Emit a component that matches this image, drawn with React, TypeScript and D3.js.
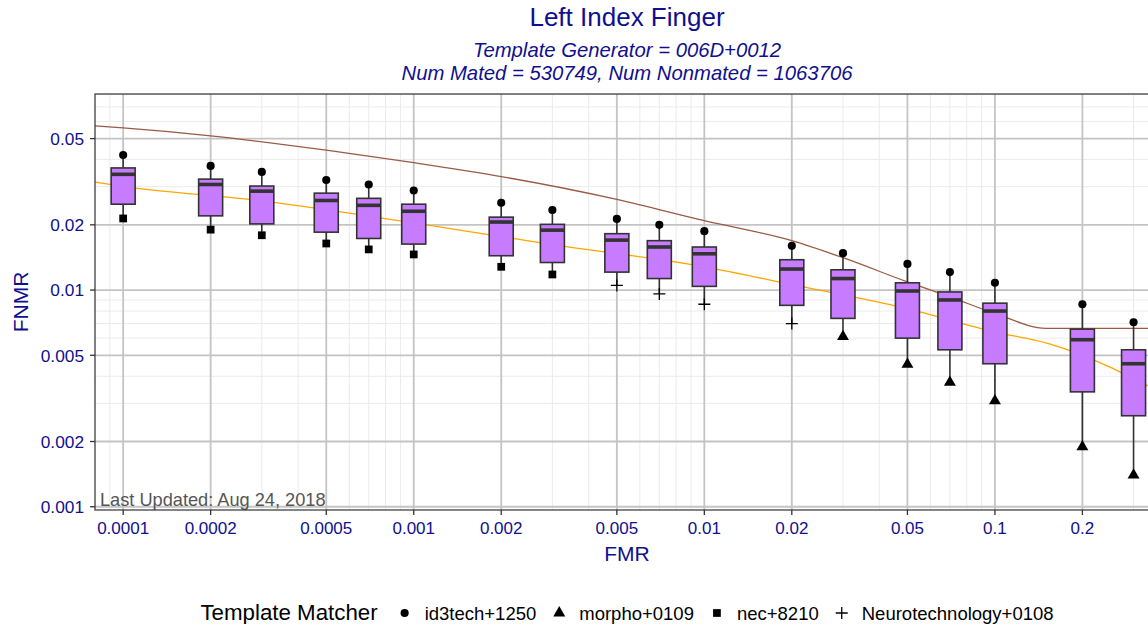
import * as d3 from 'd3';
import React, { useRef, useEffect } from 'react';

// FMR thresholds where the boxes sit
const fmr = [0.0001, 0.0002, 0.0003, 0.0005, 0.0007, 0.001, 0.002, 0.003, 0.005, 0.007, 0.01, 0.02, 0.03, 0.05, 0.07, 0.1, 0.2, 0.3];
// FNMR over all matchers at each FMR
const fnmrMax = [0.0420, 0.0374, 0.0351, 0.0322, 0.0307, 0.0288, 0.0253, 0.0234, 0.0213, 0.0200, 0.0187, 0.0160, 0.0148, 0.0132, 0.0121, 0.0108, 0.0086, 0.0071];
const fnmrQ3 = [0.0366, 0.0325, 0.0302, 0.0280, 0.0265, 0.0249, 0.0217, 0.0201, 0.0182, 0.0169, 0.0158, 0.0138, 0.0124, 0.0108, 0.0098, 0.0087, 0.0066, 0.0053];
const fnmrMedian = [0.0342, 0.0307, 0.0286, 0.0259, 0.0246, 0.0231, 0.0206, 0.0189, 0.0170, 0.0158, 0.0147, 0.0125, 0.0113, 0.0099, 0.0090, 0.0080, 0.0059, 0.00457];
const fnmrQ1 = [0.0249, 0.0220, 0.0202, 0.0185, 0.0173, 0.0163, 0.0144, 0.0134, 0.0121, 0.0113, 0.0104, 0.0085, 0.0074, 0.0060, 0.0053, 0.00457, 0.00339, 0.00263];
const fnmrMin = [0.0214, 0.0190, 0.0179, 0.0164, 0.0154, 0.0146, 0.0128, 0.0118, 0.0105, 0.0096, 0.0086, 0.0070, 0.0061, 0.00454, 0.00375, 0.00308, 0.00189, 0.0014];
const maxMatcher = fmr.map(() => 'id3tech+1250');
const minMatcher = [
  'nec+8210', 'nec+8210', 'nec+8210', 'nec+8210', 'nec+8210', 'nec+8210', 'nec+8210', 'nec+8210',
  'Neurotechnology+0108', 'Neurotechnology+0108', 'Neurotechnology+0108', 'Neurotechnology+0108',
  'morpho+0109', 'morpho+0109', 'morpho+0109', 'morpho+0109', 'morpho+0109', 'morpho+0109',
];

// reference curves
const brownFMR = [0.00008, 0.0001, 0.0002, 0.0005, 0.001, 0.002, 0.005, 0.01, 0.02, 0.03, 0.05, 0.07, 0.1, 0.15, 0.4];
const brownFNMR = [0.0572, 0.0560, 0.0515, 0.0442, 0.0387, 0.0334, 0.0262, 0.0209, 0.0169, 0.0141, 0.0109, 0.0093, 0.0078, 0.00666, 0.00666];
const orangeFMR = [0.00008, 0.0001, 0.0003, 0.001, 0.003, 0.01, 0.02, 0.05, 0.1, 0.15, 0.2, 0.25, 0.3, 0.37];
const orangeFNMR = [0.0315, 0.0301, 0.0258, 0.0204, 0.0162, 0.0128, 0.0106, 0.0082, 0.0064, 0.0057, 0.0050, 0.0044, 0.0039, 0.0034];

const xTicks = [0.0001, 0.0002, 0.0005, 0.001, 0.002, 0.005, 0.01, 0.02, 0.05, 0.1, 0.2];
const xTickLabels = ['0.0001', '0.0002', '0.0005', '0.001', '0.002', '0.005', '0.01', '0.02', '0.05', '0.1', '0.2'];
const yTicks = [0.001, 0.002, 0.005, 0.01, 0.02, 0.05];
const yTickLabels = ['0.001', '0.002', '0.005', '0.01', '0.02', '0.05'];

const matchers = ['id3tech+1250', 'morpho+0109', 'nec+8210', 'Neurotechnology+0108'];

const FONT = '"Liberation Sans", Arial, Helvetica, sans-serif';
const BLUE = '#0f0f8f';

function App() {
  const ref = useRef<SVGSVGElement>(null);

  useEffect(() => {
    draw();
  }, []);

  const draw = () => {
    const width = 1148, height = 624;
    const svg = d3.select(ref.current).attr('width', width).attr('height', height);
    svg.selectAll('*').remove();

    const left = 95, right = 1159, top = 94, bottom = 510;

    const x = d3.scaleLog().domain([0.00008, 0.367]).range([left, right]);
    const y = d3.scaleLog().domain([0.000966, 0.0803]).range([bottom, top]);

    svg.append('rect').attr('width', width).attr('height', height).attr('fill', '#fff');

    svg.append('defs').append('clipPath').attr('id', 'panel')
      .append('rect').attr('x', left).attr('y', top).attr('width', right - left).attr('height', bottom - top);

    const panel = svg.append('g').attr('clip-path', 'url(#panel)');

    // minor grid: every 1..9 x 10^k that is not a major break
    const majorX = xTicks.concat([0.5]);
    const minor = (lo: number, hi: number, majors: number[]) => {
      const out: number[] = [];
      for (let e = -6; e <= 0; e++) {
        for (let m = 1; m <= 9; m++) {
          const v = +(m * Math.pow(10, e)).toPrecision(3);
          if (v >= lo && v <= hi && !majors.some((t) => Math.abs(t - v) / v < 1e-6)) out.push(v);
        }
      }
      return out;
    };

    panel.selectAll('.xminor').data(minor(0.00008, 0.367, majorX)).enter().append('line')
      .attr('x1', (d) => x(d)).attr('x2', (d) => x(d)).attr('y1', top).attr('y2', bottom)
      .attr('stroke', '#ebebeb').attr('stroke-width', 1);
    panel.selectAll('.yminor').data(minor(0.000966, 0.0803, yTicks)).enter().append('line')
      .attr('y1', (d) => y(d)).attr('y2', (d) => y(d)).attr('x1', left).attr('x2', right)
      .attr('stroke', '#ebebeb').attr('stroke-width', 1);
    panel.selectAll('.xmajor').data(xTicks).enter().append('line')
      .attr('x1', (d) => x(d)).attr('x2', (d) => x(d)).attr('y1', top).attr('y2', bottom)
      .attr('stroke', '#c4c4c4').attr('stroke-width', 1.8);
    panel.selectAll('.ymajor').data(yTicks).enter().append('line')
      .attr('y1', (d) => y(d)).attr('y2', (d) => y(d)).attr('x1', left).attr('x2', right)
      .attr('stroke', '#c4c4c4').attr('stroke-width', 1.8);

    // reference lines (under the boxes)
    const line = d3.line<[number, number]>()
      .x((d) => x(d[0])).y((d) => y(d[1])).curve(d3.curveMonotoneX);
    panel.append('path').datum(brownFMR.map((f, i) => [f, brownFNMR[i]] as [number, number]))
      .attr('d', line).attr('fill', 'none').attr('stroke', '#9a5a45').attr('stroke-width', 1.3);
    panel.append('path').datum(orangeFMR.map((f, i) => [f, orangeFNMR[i]] as [number, number]))
      .attr('d', line).attr('fill', 'none').attr('stroke', '#ffa500').attr('stroke-width', 1.3);

    const bw = 12;
    const boxes = panel.selectAll('.box').data(fmr.map((f, i) => i)).enter().append('g');
    boxes.append('line')
      .attr('x1', (i) => x(fmr[i])).attr('x2', (i) => x(fmr[i]))
      .attr('y1', (i) => y(fnmrMax[i])).attr('y2', (i) => y(fnmrQ3[i]))
      .attr('stroke', '#333').attr('stroke-width', 1.6);
    boxes.append('line')
      .attr('x1', (i) => x(fmr[i])).attr('x2', (i) => x(fmr[i]))
      .attr('y1', (i) => y(fnmrQ1[i])).attr('y2', (i) => y(fnmrMin[i]))
      .attr('stroke', '#333').attr('stroke-width', 1.6);
    boxes.append('rect')
      .attr('x', (i) => x(fmr[i]) - bw).attr('width', bw * 2)
      .attr('y', (i) => y(fnmrQ3[i])).attr('height', (i) => y(fnmrQ1[i]) - y(fnmrQ3[i]))
      .attr('fill', '#C77CFF').attr('stroke', '#333').attr('stroke-width', 1.6);
    boxes.append('line')
      .attr('x1', (i) => x(fmr[i]) - bw).attr('x2', (i) => x(fmr[i]) + bw)
      .attr('y1', (i) => y(fnmrMedian[i])).attr('y2', (i) => y(fnmrMedian[i]))
      .attr('stroke', '#333').attr('stroke-width', 3.6);

    const shape = (m: string) => {
      if (m === 'id3tech+1250') return d3.symbol().type(d3.symbolCircle).size(52)();
      if (m === 'morpho+0109') return d3.symbol().type(d3.symbolTriangle).size(62)();
      if (m === 'nec+8210') return d3.symbol().type(d3.symbolSquare).size(60)();
      return 'M-6,0H6M0,-6V6';
    };
    const drawMark = (g: any, m: string) => {
      const plus = m === 'Neurotechnology+0108';
      g.append('path').attr('d', shape(m))
        .attr('fill', plus ? 'none' : '#000')
        .attr('stroke', plus ? '#000' : 'none')
        .attr('stroke-width', 1.3);
    };

    fmr.forEach((f, i) => {
      drawMark(panel.append('g').attr('transform', `translate(${x(f)},${y(fnmrMax[i])})`), maxMatcher[i]);
      drawMark(panel.append('g').attr('transform', `translate(${x(f)},${y(fnmrMin[i])})`), minMatcher[i]);
    });

    panel.append('text').attr('x', left + 5).attr('y', bottom - 4)
      .attr('font-family', FONT).attr('font-size', 18.2).attr('fill', '#555')
      .text('Last Updated: Aug 24, 2018');

    // panel border
    svg.append('rect').attr('x', left).attr('y', top).attr('width', right - left).attr('height', bottom - top)
      .attr('fill', 'none').attr('stroke', '#333').attr('stroke-width', 1.2);

    // axes
    svg.selectAll('.xt').data(xTicks).enter().append('line')
      .attr('x1', (d) => x(d)).attr('x2', (d) => x(d)).attr('y1', bottom).attr('y2', bottom + 5)
      .attr('stroke', '#333').attr('stroke-width', 1.3);
    svg.selectAll('.xl').data(xTicks).enter().append('text')
      .attr('x', (d) => x(d)).attr('y', bottom + 24).attr('text-anchor', 'middle')
      .attr('font-family', FONT).attr('font-size', 17).attr('fill', BLUE)
      .text((d, i) => xTickLabels[i]);
    svg.selectAll('.yt').data(yTicks).enter().append('line')
      .attr('x1', left - 5).attr('x2', left).attr('y1', (d) => y(d)).attr('y2', (d) => y(d))
      .attr('stroke', '#333').attr('stroke-width', 1.3);
    svg.selectAll('.yl').data(yTicks).enter().append('text')
      .attr('x', left - 11).attr('y', (d) => y(d)).attr('dy', '0.36em').attr('text-anchor', 'end')
      .attr('font-family', FONT).attr('font-size', 17.3).attr('fill', BLUE)
      .text((d, i) => yTickLabels[i]);

    const cx = (left + right) / 2;
    svg.append('text').attr('x', cx).attr('y', 561).attr('text-anchor', 'middle')
      .attr('font-family', FONT).attr('font-size', 21).attr('fill', BLUE).text('FMR');
    svg.append('text').attr('transform', `translate(28,${(top + bottom) / 2}) rotate(-90)`)
      .attr('text-anchor', 'middle')
      .attr('font-family', FONT).attr('font-size', 21).attr('fill', BLUE).text('FNMR');

    // titles
    svg.append('text').attr('x', cx).attr('y', 26).attr('text-anchor', 'middle')
      .attr('font-family', FONT).attr('font-size', 26).attr('fill', BLUE).text('Left Index Finger');
    svg.append('text').attr('x', cx).attr('y', 57).attr('text-anchor', 'middle')
      .attr('font-family', FONT).attr('font-size', 20.3).attr('font-style', 'italic').attr('fill', BLUE)
      .text('Template Generator = 006D+0012');
    svg.append('text').attr('x', cx).attr('y', 80).attr('text-anchor', 'middle')
      .attr('font-family', FONT).attr('font-size', 20.3).attr('font-style', 'italic').attr('fill', BLUE)
      .text('Num Mated = 530749, Num Nonmated = 1063706');

    // legend, laid out left to right then centred
    const legend = svg.append('g');
    const ly = 620;
    const lt = legend.append('text').attr('x', 0).attr('y', ly)
      .attr('font-family', FONT).attr('font-size', 22.3).attr('fill', '#000').text('Template Matcher');
    let pos = (lt.node() as SVGTextElement).getComputedTextLength() + 27;
    matchers.forEach((m) => {
      drawMark(legend.append('g').attr('transform', `translate(${pos},${ly - 7})`), m);
      const t = legend.append('text').attr('x', pos + 20).attr('y', ly)
        .attr('font-family', FONT).attr('font-size', 18.5).attr('fill', '#000').text(m);
      pos += 20 + (t.node() as SVGTextElement).getComputedTextLength() + 23;
    });
    const total = pos - 23;
    legend.attr('transform', `translate(${cx - total / 2},0)`);
  };

  return (
    <div className="chart">
      <svg ref={ref} style={{ position: 'absolute', left: 0, top: 0, display: 'block' }}></svg>
    </div>
  );
}

export default App;
